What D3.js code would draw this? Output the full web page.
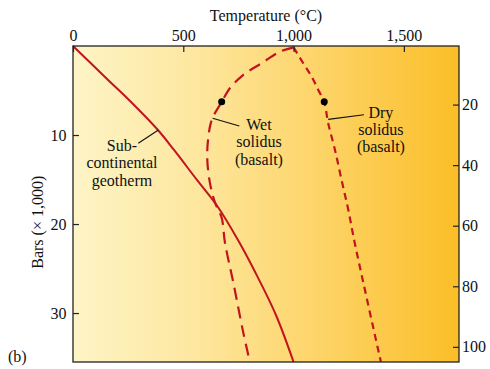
<!DOCTYPE html>
<html>
<head>
<meta charset="utf-8">
<script src="https://cdn.jsdelivr.net/npm/d3@7"></script>
<style>
  body { margin: 0; background: #fff; }
  svg { display: block; font-family: "Liberation Serif", "DejaVu Serif", serif; }
  .axisGroup text { font-size: 16px; fill: #111; font-family: "Liberation Serif", serif; }
  .axisGroup line { stroke: #222; stroke-width: 1.2; }
  .axisLabel { font-size: 16px; fill: #111; }
  .note { font-size: 16px; fill: #111; }
</style>
</head>
<body>
<div id="container"></div>
<script>
// temperature (°C), pressure (kbar)
var geotherm = [[0, 0], [159, 3.82], [254, 6.07], [385, 9.44], [458, 11.68], [562, 15.05], [657, 18.09], [748, 21.8], [821, 25.17], [920, 30.22], [1000, 35.5]];
var wetSolidus = [[1000, 0.15], [938, 0.64], [855, 1.94], [771, 3.26], [712, 4.72], [674, 6.29], [629, 8.31], [612, 10.6], [609, 12.8], [621, 15.4], [644, 17.6], [674, 19.3], [689, 22.1], [727, 26.6], [772, 32.2], [802, 35.5]];
var drySolidus = [[1000, 0.15], [1044, 1.94], [1082, 3.45], [1112, 4.94], [1139, 6.33], [1157, 8.69], [1188, 11.7], [1218, 15.1], [1248, 18.4], [1278, 22.2], [1396, 35.5]];
var dots = [[674, 6.27], [1139, 6.27]];
var tempTicks = [0, 500, 1000, 1500];
var pressureTicks = [10, 20, 30];
var depthTicks = [20, 40, 60, 80, 100];

var width = 490, height = 369;
var margin = { top: 46, right: 31, bottom: 7, left: 73 };

var x = d3.scaleLinear()
  .domain([0, 1750])
  .range([margin.left, width - margin.right]);
var y = d3.scaleLinear()
  .domain([0, 35.5])
  .range([margin.top, height - margin.bottom]);
var depth = d3.scaleLinear()
  .domain([0, 105])
  .range([44, height - margin.bottom]);

var chart = d3.select("#container")
  .append("svg")
    .attr("width", width)
    .attr("height", height);

var grad = chart.append("defs")
  .append("linearGradient")
    .attr("id", "bg")
    .attr("x1", "0%").attr("x2", "100%")
    .attr("y1", "0%").attr("y2", "0%");
[["0%", "#fef4c6"], ["30%", "#fde8a2"], ["62%", "#fdd56b"], ["100%", "#fbbe27"]].forEach(function(s) {
  grad.append("stop").attr("offset", s[0]).attr("stop-color", s[1]);
});

chart.append("rect")
  .attr("x", x(0))
  .attr("y", y(0))
  .attr("width", x(1750) - x(0))
  .attr("height", y(35.5) - y(0))
  .attr("fill", "url(#bg)");

// curves
var line = d3.line()
  .x(function(d) { return x(d[0]); })
  .y(function(d) { return y(d[1]); })
  .curve(d3.curveCatmullRom.alpha(0.5));

chart.append("path")
  .attr("d", line(geotherm))
  .attr("fill", "none")
  .attr("stroke", "#c2141f")
  .attr("stroke-width", 2);
chart.append("path")
  .attr("d", line(wetSolidus))
  .attr("fill", "none")
  .attr("stroke", "#c2141f")
  .attr("stroke-width", 2.2)
  .attr("stroke-dasharray", "12,7");
chart.append("path")
  .attr("d", line(drySolidus))
  .attr("fill", "none")
  .attr("stroke", "#c2141f")
  .attr("stroke-width", 2.2)
  .attr("stroke-dasharray", "7,5");

chart.selectAll(".dot")
  .data(dots)
  .enter().append("circle")
    .classed("dot", true)
    .attr("cx", function(d) { return x(d[0]); })
    .attr("cy", function(d) { return y(d[1]); })
    .attr("r", 3.5)
    .attr("fill", "#000");

// annotations (data coordinates)
var notes = [
  { lines: ["Sub-", "continental", "geotherm"], t: 222, p: 11.76, lh: 17.7, leader: [[296, 10.93], [387, 9.44]] },
  { lines: ["Wet", "solidus", "(basalt)"], t: 843, p: 9.45, lh: 17.2, leader: [[633, 8.12], [754, 8.99]] },
  { lines: ["Dry", "solidus", "(basalt)"], t: 1396, p: 8.05, lh: 17.2, leader: [[1157, 8.24], [1319, 7.72]] }
];
notes.forEach(function(n) {
  chart.append("line")
    .attr("x1", x(n.leader[0][0]))
    .attr("y1", y(n.leader[0][1]))
    .attr("x2", x(n.leader[1][0]))
    .attr("y2", y(n.leader[1][1]))
    .attr("stroke", "#111")
    .attr("stroke-width", 1.1);
  var t = chart.append("text")
    .classed("note", true)
    .attr("text-anchor", "middle")
    .attr("x", x(n.t))
    .attr("y", y(n.p));
  n.lines.forEach(function(s, i) {
    t.append("tspan")
      .attr("x", x(n.t))
      .attr("dy", i == 0 ? 0 : n.lh)
      .text(s);
  });
});

// axes, ticks point inward
var xAxisGroup = chart.append("g")
  .classed("axisGroup", true)
  .attr("transform", "translate(0," + y(0) + ")")
  .call(d3.axisTop(x)
    .tickValues(tempTicks)
    .tickFormat(d3.format(","))
    .tickSizeInner(-6)
    .tickSizeOuter(0)
    .tickPadding(5.5));
var yAxisGroup = chart.append("g")
  .classed("axisGroup", true)
  .attr("transform", "translate(" + x(0) + ",0)")
  .call(d3.axisLeft(y)
    .tickValues(pressureTicks)
    .tickSizeInner(-6)
    .tickSizeOuter(0)
    .tickPadding(6.5));
var depthAxisGroup = chart.append("g")
  .classed("axisGroup", true)
  .attr("transform", "translate(" + x(1750) + ",0)")
  .call(d3.axisRight(depth)
    .tickValues(depthTicks)
    .tickSizeInner(-6)
    .tickSizeOuter(0)
    .tickPadding(3));
chart.selectAll(".axisGroup .domain").remove();
chart.selectAll(".axisGroup text").attr("font-family", null).attr("font-size", null);

chart.append("rect")
  .attr("x", x(0))
  .attr("y", y(0))
  .attr("width", x(1750) - x(0))
  .attr("height", y(35.5) - y(0))
  .attr("fill", "none")
  .attr("stroke", "#222")
  .attr("stroke-width", 1.3);

chart.append("text")
  .classed("axisLabel", true)
  .attr("text-anchor", "middle")
  .attr("x", (x(0) + x(1750)) / 2)
  .attr("y", 21)
  .text("Temperature (°C)");
chart.append("text")
  .classed("axisLabel", true)
  .attr("text-anchor", "middle")
  .attr("transform", "translate(43," + y(19.8) + ") rotate(-90)")
  .text("Bars (× 1,000)");
chart.append("text")
  .classed("axisLabel", true)
  .attr("x", 8)
  .attr("y", 362)
  .text("(b)");
</script>
</body>
</html>
